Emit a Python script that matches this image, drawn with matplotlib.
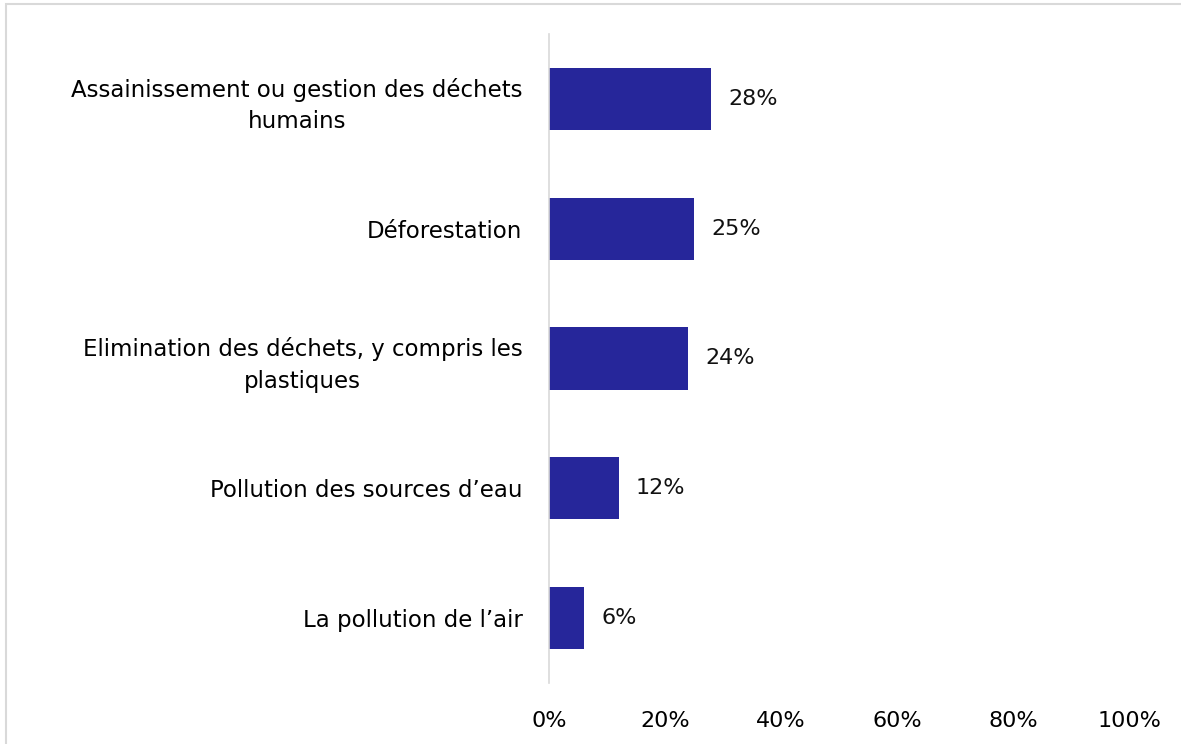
import matplotlib
matplotlib.use("Agg")
import matplotlib.pyplot as plt
from matplotlib.patches import Rectangle

plt.rcParams['font.family'] = ['DejaVu Sans']

categories = [
    "Assainissement ou gestion des déchets\nhumains",
    "Déforestation",
    "Elimination des déchets, y compris les\nplastiques",
    "Pollution des sources d\u2019eau",
    "La pollution de l\u2019air",
]
values = [28, 25, 24, 12, 6]
xticks = [0, 20, 40, 60, 80, 100]
xtick_labels = ["0%", "20%", "40%", "60%", "80%", "100%"]

fig = plt.figure(figsize=(11.81, 7.44), dpi=100)
ax = fig.add_axes([549 / 1181, 1 - 683 / 744, 580 / 1181, 649 / 744])

ypos = list(range(len(categories)))[::-1]
ax.barh(ypos, values, height=0.48, color="#26269A")
for y, v in zip(ypos, values):
    ax.text(v + 3, y, f"{v}%", va="center", ha="left", fontsize=16, color="#111111")

ax.set_xlim(0, 100)
ax.set_ylim(-0.5, len(categories) - 0.5)
ax.set_yticks(ypos)
ax.set_yticklabels(categories, fontsize=16.5, ha="right",
                   multialignment="center", linespacing=1.45)
ax.set_xticks(xticks)
ax.set_xticklabels(xtick_labels, fontsize=16)
ax.tick_params(axis="both", length=0)
ax.tick_params(axis="x", pad=20)
ax.tick_params(axis="y", pad=19)

for s in ["top", "right", "bottom"]:
    ax.spines[s].set_visible(False)
ax.spines["left"].set_color("#D9D9D9")
ax.spines["left"].set_linewidth(1.2)

fig.patches.append(Rectangle((6 / 1181, -0.1), 1.2, 1 - 4 / 744 + 0.1,
                             transform=fig.transFigure, fill=False,
                             edgecolor="#D9D9D9", linewidth=1.5))

fig.savefig("out.png", dpi=100)
